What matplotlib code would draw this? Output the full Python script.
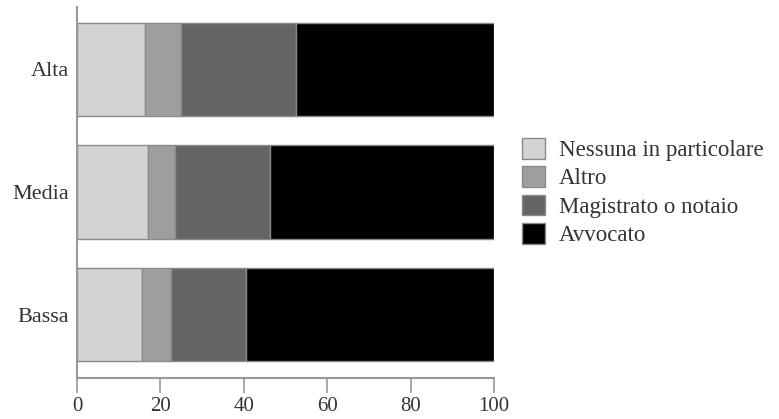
import numpy as np
import matplotlib
matplotlib.use("Agg")
from matplotlib import pyplot as plt

# categories bottom -> top
categories = ["Bassa", "Media", "Alta"]
series_names = ["Nessuna in particolare", "Altro", "Magistrato o notaio", "Avvocato"]
nessuna = [15.5, 17.1, 16.3]
altro = [7.0, 6.5, 8.6]
magistrato = [18.0, 22.6, 27.7]
avvocato = [59.5, 53.8, 47.4]
x_ticks = [0, 20, 40, 60, 80, 100]

colors = ["#d3d3d3", "#9e9e9e", "#646464", "#000000"]
edge = "#8a8a8a"

plt.rcParams["font.family"] = ["Liberation Serif", "DejaVu Serif"]

fig = plt.figure(figsize=(7.79, 4.19), dpi=100)
ax = fig.add_axes([77 / 779, 1 - 378 / 419, (494 - 77) / 779, (378 - 7) / 419])

y = np.arange(len(categories))
left = np.zeros(len(categories))
for name, vals, c in zip(series_names, [nessuna, altro, magistrato, avvocato], colors):
    ax.barh(y, vals, left=left, height=0.76, color=c, edgecolor=edge,
            linewidth=1.0, label=name)
    left += np.array(vals)

ax.set_xlim(0, 100)
ax.set_ylim(-0.518, 2.51)
ax.set_xticks(x_ticks)
ax.set_yticks(y)
ax.set_yticklabels(categories)
ax.tick_params(axis="y", length=0, pad=6, labelsize=16, colors="#333333")
ax.tick_params(axis="x", length=11, width=1.2, color="#999999", pad=3,
               labelsize=15, labelcolor="#333333")
for s in ["top", "right"]:
    ax.spines[s].set_visible(False)
for s in ["left", "bottom"]:
    ax.spines[s].set_color("#999999")
    ax.spines[s].set_linewidth(1.5)

handles, labels = ax.get_legend_handles_labels()
leg = fig.legend(handles, labels, loc="center left",
                 bbox_to_anchor=(522 / 779, 1 - 192 / 419), frameon=False,
                 fontsize=16.5, handlelength=1.02, handleheight=1.02,
                 labelspacing=0.22, handletextpad=0.6, borderpad=0,
                 borderaxespad=0)
for t in leg.get_texts():
    t.set_color("#333333")

fig.savefig("out.png", dpi=100)
